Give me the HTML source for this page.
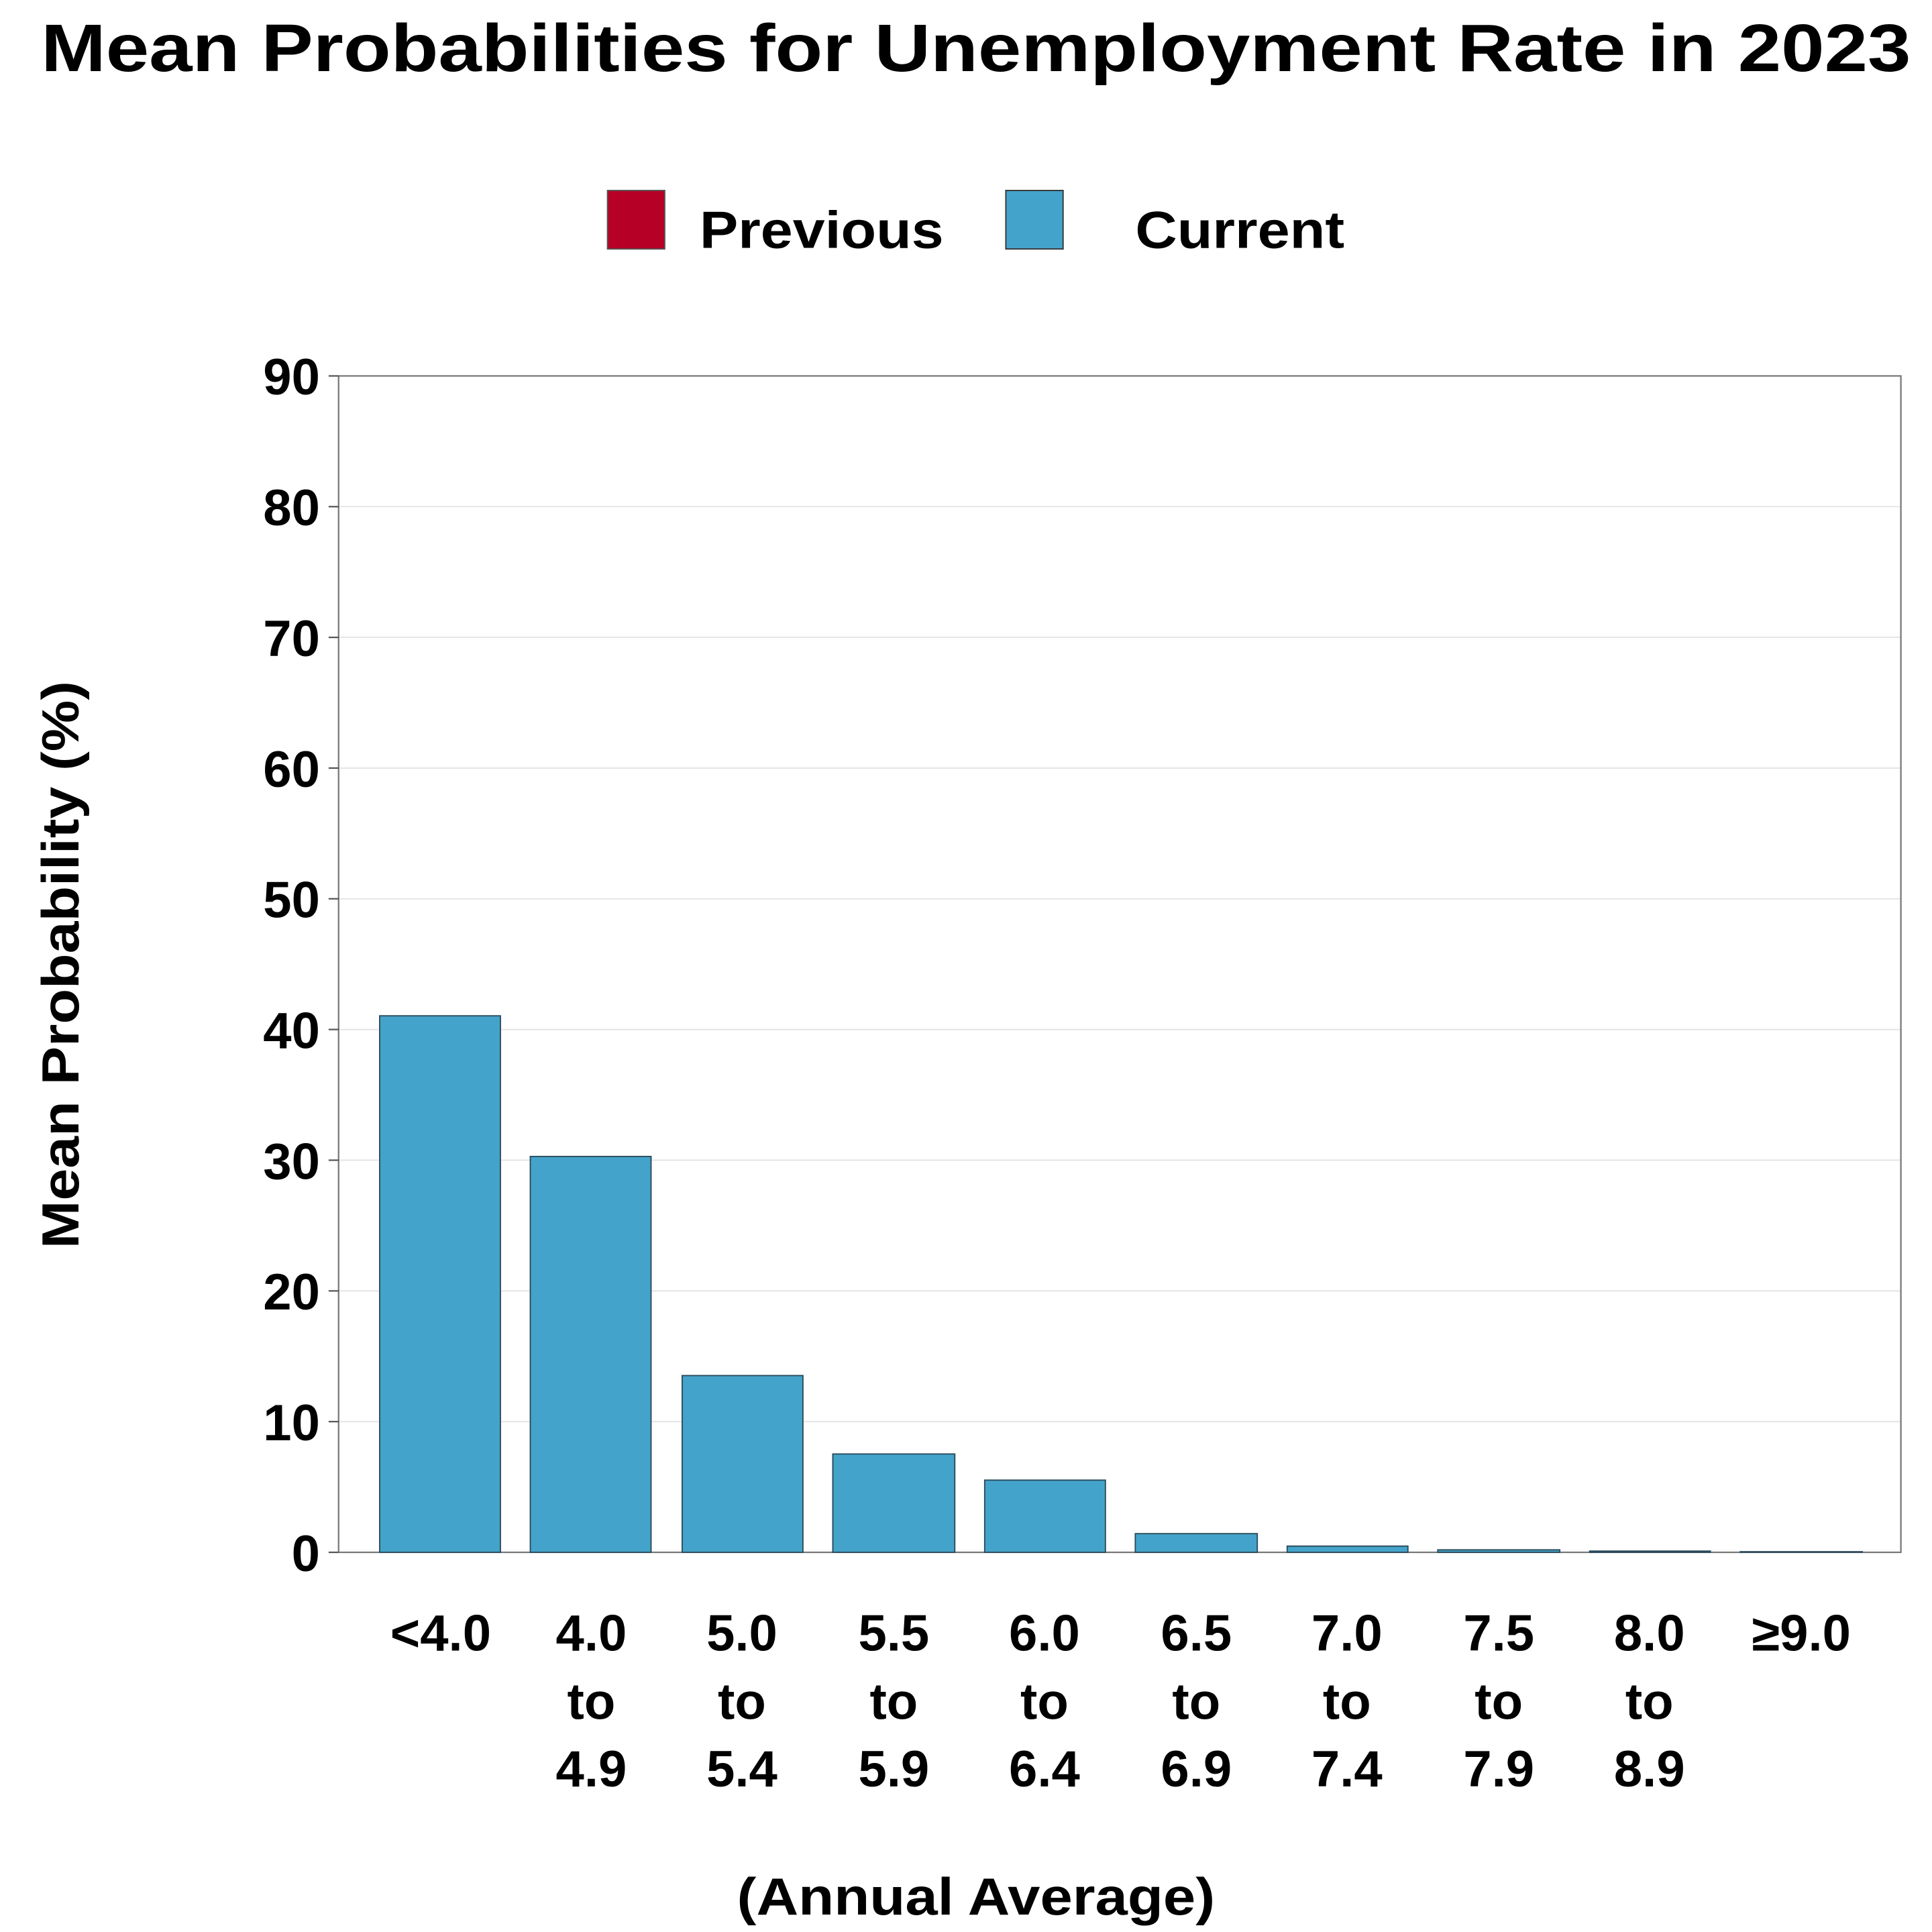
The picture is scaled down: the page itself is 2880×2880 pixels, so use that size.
<!DOCTYPE html>
<html><head><meta charset="utf-8"><style>html,body{margin:0;padding:0;background:#fff}svg{display:block}text{font-family:"Liberation Sans","DejaVu Sans",sans-serif;font-weight:bold;fill:#000}</style></head>
<body>
<svg width="2880" height="2880" viewBox="0 0 1552 1552" xmlns="http://www.w3.org/2000/svg">
<rect width="1552" height="1552" fill="#fff"/>
<text x="33" y="57" font-size="54" textLength="1502" lengthAdjust="spacingAndGlyphs">Mean Probabilities for Unemployment Rate in 2023</text>
<rect x="488" y="153" width="46" height="47" fill="#b70026" stroke="#555" stroke-width="1"/>
<text x="562" y="199" font-size="42" textLength="196" lengthAdjust="spacingAndGlyphs">Previous</text>
<rect x="808" y="153" width="46" height="47" fill="#44a3ca" stroke="#333" stroke-width="1"/>
<text x="912" y="199" font-size="42" textLength="168" lengthAdjust="spacingAndGlyphs">Current</text>
<g stroke="#e3e3e3" stroke-width="1">
<line x1="272" x2="1527" y1="407" y2="407"/><line x1="272" x2="1527" y1="512" y2="512"/>
<line x1="272" x2="1527" y1="617" y2="617"/><line x1="272" x2="1527" y1="722" y2="722"/>
<line x1="272" x2="1527" y1="827" y2="827"/><line x1="272" x2="1527" y1="932" y2="932"/>
<line x1="272" x2="1527" y1="1037" y2="1037"/><line x1="272" x2="1527" y1="1142" y2="1142"/>
</g>
<rect x="272" y="302" width="1255" height="945" fill="none" stroke="#777" stroke-width="1.2"/>
<g stroke="#555" stroke-width="1.2">
<line x1="264" x2="272" y1="302" y2="302"/><line x1="264" x2="272" y1="407" y2="407"/><line x1="264" x2="272" y1="512" y2="512"/><line x1="264" x2="272" y1="617" y2="617"/><line x1="264" x2="272" y1="722" y2="722"/><line x1="264" x2="272" y1="827" y2="827"/><line x1="264" x2="272" y1="932" y2="932"/><line x1="264" x2="272" y1="1037" y2="1037"/><line x1="264" x2="272" y1="1142" y2="1142"/><line x1="264" x2="272" y1="1247" y2="1247"/>
</g>
<g font-size="41" text-anchor="end">
<text x="257" y="317">90</text><text x="257" y="422">80</text><text x="257" y="527">70</text><text x="257" y="632">60</text><text x="257" y="737">50</text><text x="257" y="842">40</text><text x="257" y="947">30</text><text x="257" y="1052">20</text><text x="257" y="1157">10</text><text x="257" y="1262">0</text>
</g>
<g fill="#44a3ca" stroke="#2a4a5a" stroke-width="1">
<rect x="305" y="816" width="97" height="431"/>
<rect x="426" y="929" width="97" height="318"/>
<rect x="548" y="1105" width="97" height="142"/>
<rect x="669" y="1168" width="98" height="79"/>
<rect x="791" y="1189" width="97" height="58"/>
<rect x="912" y="1232" width="98" height="15"/>
<rect x="1034" y="1242" width="97" height="5"/>
<rect x="1155" y="1245" width="98" height="2"/>
<rect x="1277" y="1246" width="97" height="1"/>
<rect x="1398" y="1246.5" width="98" height="0.5"/>
</g>
<g font-size="41" text-anchor="middle">
<text x="354" y="1326">&lt;4.0</text>
<text x="475" y="1326">4.0</text><text x="475" y="1381">to</text><text x="475" y="1435">4.9</text>
<text x="596" y="1326">5.0</text><text x="596" y="1381">to</text><text x="596" y="1435">5.4</text>
<text x="718" y="1326">5.5</text><text x="718" y="1381">to</text><text x="718" y="1435">5.9</text>
<text x="839" y="1326">6.0</text><text x="839" y="1381">to</text><text x="839" y="1435">6.4</text>
<text x="961" y="1326">6.5</text><text x="961" y="1381">to</text><text x="961" y="1435">6.9</text>
<text x="1082" y="1326">7.0</text><text x="1082" y="1381">to</text><text x="1082" y="1435">7.4</text>
<text x="1204" y="1326">7.5</text><text x="1204" y="1381">to</text><text x="1204" y="1435">7.9</text>
<text x="1325" y="1326">8.0</text><text x="1325" y="1381">to</text><text x="1325" y="1435">8.9</text>
<text x="1447" y="1326">≥9.0</text>
</g>
<text x="592" y="1538" font-size="42" textLength="384" lengthAdjust="spacingAndGlyphs">(Annual Average)</text>
<text transform="translate(63,1003) rotate(-90)" font-size="42" textLength="456" lengthAdjust="spacingAndGlyphs">Mean Probability (%)</text>
</svg>
</body></html>
